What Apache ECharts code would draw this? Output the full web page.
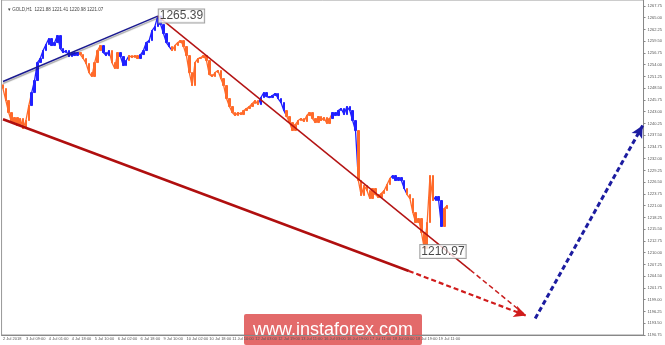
<!DOCTYPE html>
<html><head><meta charset="utf-8">
<script src="https://cdn.jsdelivr.net/npm/echarts@6/dist/echarts.min.js"></script>
<style>html,body{margin:0;padding:0;background:#fff}#c{width:665px;height:345px}</style>
</head><body><div id="c"></div>
<script>
// ---- data ----
var tickLabels = ["2 Jul 2018","3 Jul 09:00","4 Jul 01:00","4 Jul 18:00","5 Jul 10:00","6 Jul 02:00","6 Jul 18:00","9 Jul 10:00","10 Jul 02:00","10 Jul 18:00","11 Jul 10:00","12 Jul 03:00","12 Jul 19:00","13 Jul 11:00","16 Jul 03:00","16 Jul 19:00","17 Jul 11:00","18 Jul 03:00","18 Jul 19:00","19 Jul 11:00"];
var firstOpen = 1249.30;
var closes = [1248.43,1245.62,1242.81,1240.47,1241.64,1239.77,1241.41,1239.07,1240.94,1244.45,
1247.49,1250.30,1254.51,1255.45,1257.32,1258.72,1260.13,1258.49,1259.19,1260.83,
1257.79,1256.85,1257.32,1255.92,1256.85,1256.15,1256.85,1256.38,1255.45,1254.28,
1252.17,1251.24,1254.51,1257.32,1258.49,1256.85,1256.15,1257.32,1254.51,1253.11,
1256.85,1255.92,1253.81,1254.98,1256.15,1255.68,1256.15,1255.45,1256.38,1257.32,
1259.19,1259.66,1262.00,1262.94,1265.39,1263.40,1261.30,1259.19,1258.26,1257.32,
1258.49,1259.19,1259.66,1258.26,1256.15,1252.17,1249.13,1254.51,1255.45,1255.68,
1256.15,1254.98,1251.70,1251.24,1252.17,1252.64,1250.77,1249.13,1246.09,1244.22,
1242.81,1242.11,1242.81,1242.34,1243.28,1243.75,1244.22,1244.92,1245.62,1244.68,
1246.32,1247.49,1246.56,1246.32,1246.79,1247.26,1246.09,1245.15,1243.28,1241.88,
1240.47,1238.60,1240.00,1240.94,1241.41,1240.71,1242.11,1242.81,1241.41,1240.47,
1241.88,1240.94,1241.64,1240.24,1241.41,1242.81,1242.11,1243.28,1243.75,1242.34,
1244.22,1243.28,1240.94,1238.60,1226.90,1223.39,1225.73,1224.56,1222.69,1225.03,
1223.62,1222.92,1223.86,1224.56,1225.96,1227.36,1228.07,1226.90,1227.60,1226.90,
1225.03,1223.62,1222.69,1219.41,1217.07,1218.01,1214.73,1210.97,1217.07,1228.07,
1222.22,1223.16,1222.22,1216.14,1220.35,1221.07];
var blueRanges = [[10,26],[35,37],[41,43],[48,58],[90,98],[115,123],[136,140],[151,153]];
var totalSlots = 224;
var peakIdx = 54, peakPrice = 1265.39;
var lowIdx = 147, lowPrice = 1210.97;
var lastPrice = 1221.07;
// trend lines as [bar index, price]
var upperBlue = [[0,1250.07],[54,1265.39]];
var thinRedSolid = [[54,1265.39],[163.1,1205.94]];
var thinRedDash = [[163.1,1205.94],[182.5,1195.3]];
var thickRedSolid = [[0,1241.24],[141.6,1205.73]];
var thickRedDash = [[141.6,1205.73],[182.5,1195.3]];
var blueDash = [[185.7,1194.61],[223.2,1239.77]];
var yTicks = {min:1190.75, max:1269.15, step:2.75};

// ---- build ----
var cats = [];
for (var i=0;i<totalSlots;i++){ cats.push(i%8===0 && tickLabels[i/8] ? tickLabels[i/8] : ''); }
function isBlue(i){ for(var k=0;k<blueRanges.length;k++){ if(i>=blueRanges[k][0]&&i<=blueRanges[k][1]) return true;} return false; }
var ORANGE='#ff6a2a', BLUE='#2020ff';
var candles = closes.map(function(c,i){
  var o = i===0 ? firstOpen : closes[i-1];
  var col = isBlue(i)?BLUE:ORANGE;
  return {value:[o,c,Math.min(o,c),Math.max(o,c)], itemStyle:{color:col,color0:col,borderColor:col,borderColor0:col,borderWidth:1}};
});
var pieces = blueRanges.map(function(r){return {gte:r[0]-0.5,lte:r[1]+0.5,color:BLUE};});
function ml(pts,color,width,arrow){
  return {silent:true,animation:false,symbol:['none',arrow?'arrow':'none'],symbolSize:arrow?[9,12]:0,
    label:{show:false},lineStyle:{color:color,width:width,type:[5,3]},
    data:[[{coord:pts[0]},{coord:pts[1]}]]};
}
var chart = echarts.init(document.getElementById('c'),null,{renderer:'canvas'});
chart.setOption({
  animation:false,
  backgroundColor:'#fff',
  textStyle:{fontFamily:'Liberation Sans, Arial, sans-serif'},
  title:{text:'\u25BE GOLD,H1  1221.88 1221.41 1220.98 1221.07',left:3,top:2,textStyle:{fontSize:4.5,fontWeight:'normal',color:'#444'}},
  grid:{left:1,right:19,top:0,bottom:10,show:true,borderColor:'#999',borderWidth:1},
  visualMap:{show:false,type:'piecewise',seriesIndex:1,dimension:0,pieces:pieces,outOfRange:{color:ORANGE}},
  xAxis:[{type:'category',data:cats,boundaryGap:true,
    axisLine:{onZero:false,lineStyle:{color:'#888'}},
    axisTick:{interval:function(i,v){return v!=='';},length:2,lineStyle:{color:'#888'}},
    axisLabel:{interval:function(i,v){return v!=='';},showMinLabel:true,hideOverlap:false,fontSize:4,color:'#555',align:'left',margin:2},
    splitLine:{show:false}},
    {type:'value',min:-0.5,max:totalSlots-0.5,show:false,axisLine:{onZero:false}}],
  yAxis:{type:'value',position:'right',min:yTicks.min,max:yTicks.max,interval:yTicks.step,
    axisLine:{show:true,onZero:false,lineStyle:{color:'#888'}},axisTick:{show:true,length:2,lineStyle:{color:'#888'}},
    axisLabel:{fontSize:4,color:'#555',margin:4,showMaxLabel:false,formatter:function(v){return v.toFixed(2);}},
    splitLine:{show:false}},
  series:[
    {type:'candlestick',data:candles,barWidth:2,
      markLine:{silent:true,animation:false,symbol:['none','none'],lineStyle:{opacity:0},
        label:{position:'end',formatter:lastPrice.toFixed(2),fontSize:4,color:'#fff',backgroundColor:'#8c8c8c',padding:[1,2],distance:2},
        data:[{yAxis:lastPrice}]}},
    {type:'line',xAxisIndex:1,data:closes.map(function(c,i){return [i,c];}),symbol:'none',lineStyle:{width:1.3},z:3},
    {type:'line',xAxisIndex:1,data:upperBlue,symbol:'none',lineStyle:{color:'#1a1a90',width:1.5,shadowColor:'rgba(0,0,0,0.35)',shadowOffsetY:2,shadowBlur:1},z:5},
    {type:'line',xAxisIndex:1,data:thinRedSolid,symbol:'none',lineStyle:{color:'#b41414',width:1.5},z:5,
      markLine:ml(thinRedDash,'#c81e1e',1.5,false)},
    {type:'line',xAxisIndex:1,data:thickRedSolid,symbol:'none',lineStyle:{color:'#b00f0f',width:2.5},z:5,
      markLine:ml(thickRedDash,'#d01c1c',2.2,true)},
    {type:'line',xAxisIndex:1,data:[],symbol:'none',z:6,
      markLine:ml(blueDash,'#1c1ca0',3,true)},
    {type:'scatter',xAxisIndex:1,symbolSize:0,z:10,
      data:[{value:[peakIdx,peakPrice],label:{offset:[0,0]}},{value:[lowIdx,lowPrice],label:{offset:[-5,3]}}],
      label:{show:true,position:'right',distance:1,formatter:function(p){return p.value[1].toFixed(2);},
        fontSize:12,color:'#1a1a1a',backgroundColor:'#fff',borderColor:'#8a8a8a',borderWidth:1,padding:[1,1,0,1]}}
  ],
  graphic:[{type:'group',left:244,top:314,children:[
    {type:'rect',shape:{x:0,y:0,width:178,height:31,r:2},style:{fill:'rgba(222,80,80,0.85)'}},
    {type:'text',style:{x:89,y:16,text:'www.instaforex.com',fill:'#fff',fontSize:18,fontFamily:'Liberation Sans, Arial, sans-serif',textAlign:'center',textVerticalAlign:'middle'}}
  ]}]
});
</script></body></html>
